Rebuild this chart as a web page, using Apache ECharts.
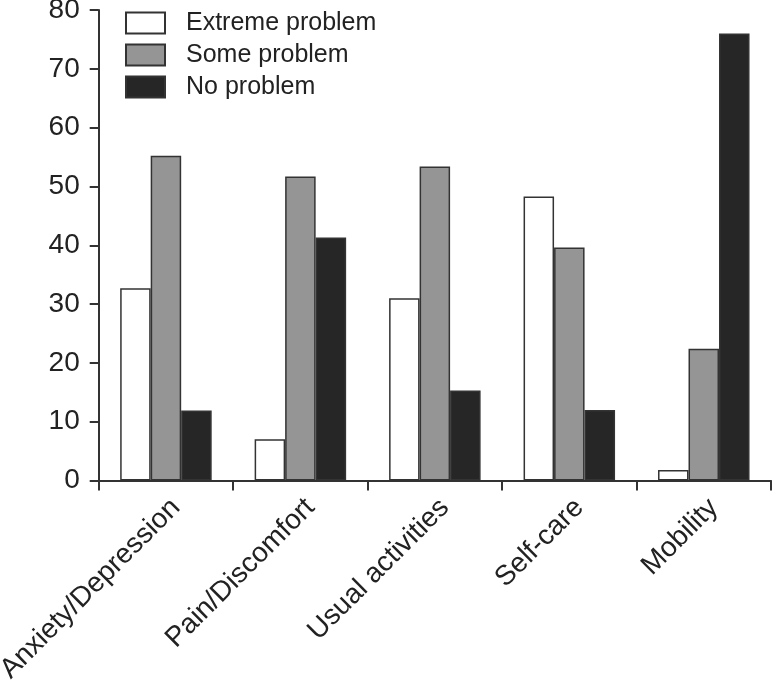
<!DOCTYPE html>
<html>
<head>
<meta charset="utf-8">
<script src="https://cdn.jsdelivr.net/npm/echarts@6/dist/echarts.min.js"></script>
<style>
html,body{margin:0;padding:0;background:#fff;}
#chart{width:772px;height:680px;}
</style>
</head>
<body>
<div id="chart"></div>
<script>
var categories = ['Anxiety/Depression', 'Pain/Discomfort', 'Usual activities', 'Self-care', 'Mobility'];
var extremeProblem = [32.7, 7.0, 31.0, 48.3, 1.8];
var someProblem = [55.2, 51.7, 53.4, 39.6, 22.4];
var noProblem = [11.9, 41.3, 15.3, 12.0, 76.0];
var seriesNames = ['Extreme problem', 'Some problem', 'No problem'];
var yTicks = [0, 10, 20, 30, 40, 50, 60, 70, 80];

var FONT = '"Liberation Sans", Arial, Helvetica, sans-serif';
var chart = echarts.init(document.getElementById('chart'), null, {renderer: 'canvas'});
var border = {borderColor: '#333', borderWidth: 1.5};
function mk(name, data, color) {
  return {
    name: name, type: 'bar', data: data, barWidth: 30.5, barGap: '0%',
    itemStyle: Object.assign({color: color}, border),
    emphasis: {disabled: true}
  };
}
chart.setOption({
  animation: false,
  backgroundColor: '#fff',
  textStyle: {fontFamily: FONT},
  grid: {left: 98.7, right: 1, top: 10, bottom: 199.5, containLabel: false, outerBoundsMode: 'none'},
  legend: {
    orient: 'vertical', left: 125, top: 10.5, padding: 0,
    itemWidth: 39, itemHeight: 21, itemGap: 7,
    icon: 'rect',
    data: seriesNames,
    textStyle: {fontSize: 25, lineHeight: 21, color: '#222', fontFamily: FONT, padding: [0, 0, 0, 16]}
  },
  xAxis: {
    type: 'category', data: categories, boundaryGap: true,
    axisLine: {lineStyle: {color: '#333', width: 2}},
    axisTick: {show: true, length: 10, alignWithLabel: false, lineStyle: {color: '#333', width: 2}},
    axisLabel: {rotate: 45, fontSize: 28, color: '#222', margin: 13, verticalAlign: 'top', fontFamily: FONT, interval: 0, hideOverlap: false}
  },
  yAxis: {
    type: 'value', min: yTicks[0], max: yTicks[yTicks.length - 1], interval: 10,
    splitLine: {show: false},
    axisLine: {show: true, lineStyle: {color: '#333', width: 2}},
    axisTick: {show: true, length: 9, lineStyle: {color: '#333', width: 2}},
    axisLabel: {fontSize: 28, color: '#222', margin: 19, fontFamily: FONT}
  },
  series: [
    mk(seriesNames[0], extremeProblem, '#ffffff'),
    mk(seriesNames[1], someProblem, '#959595'),
    mk(seriesNames[2], noProblem, '#262626')
  ]
});
</script>
</body>
</html>
